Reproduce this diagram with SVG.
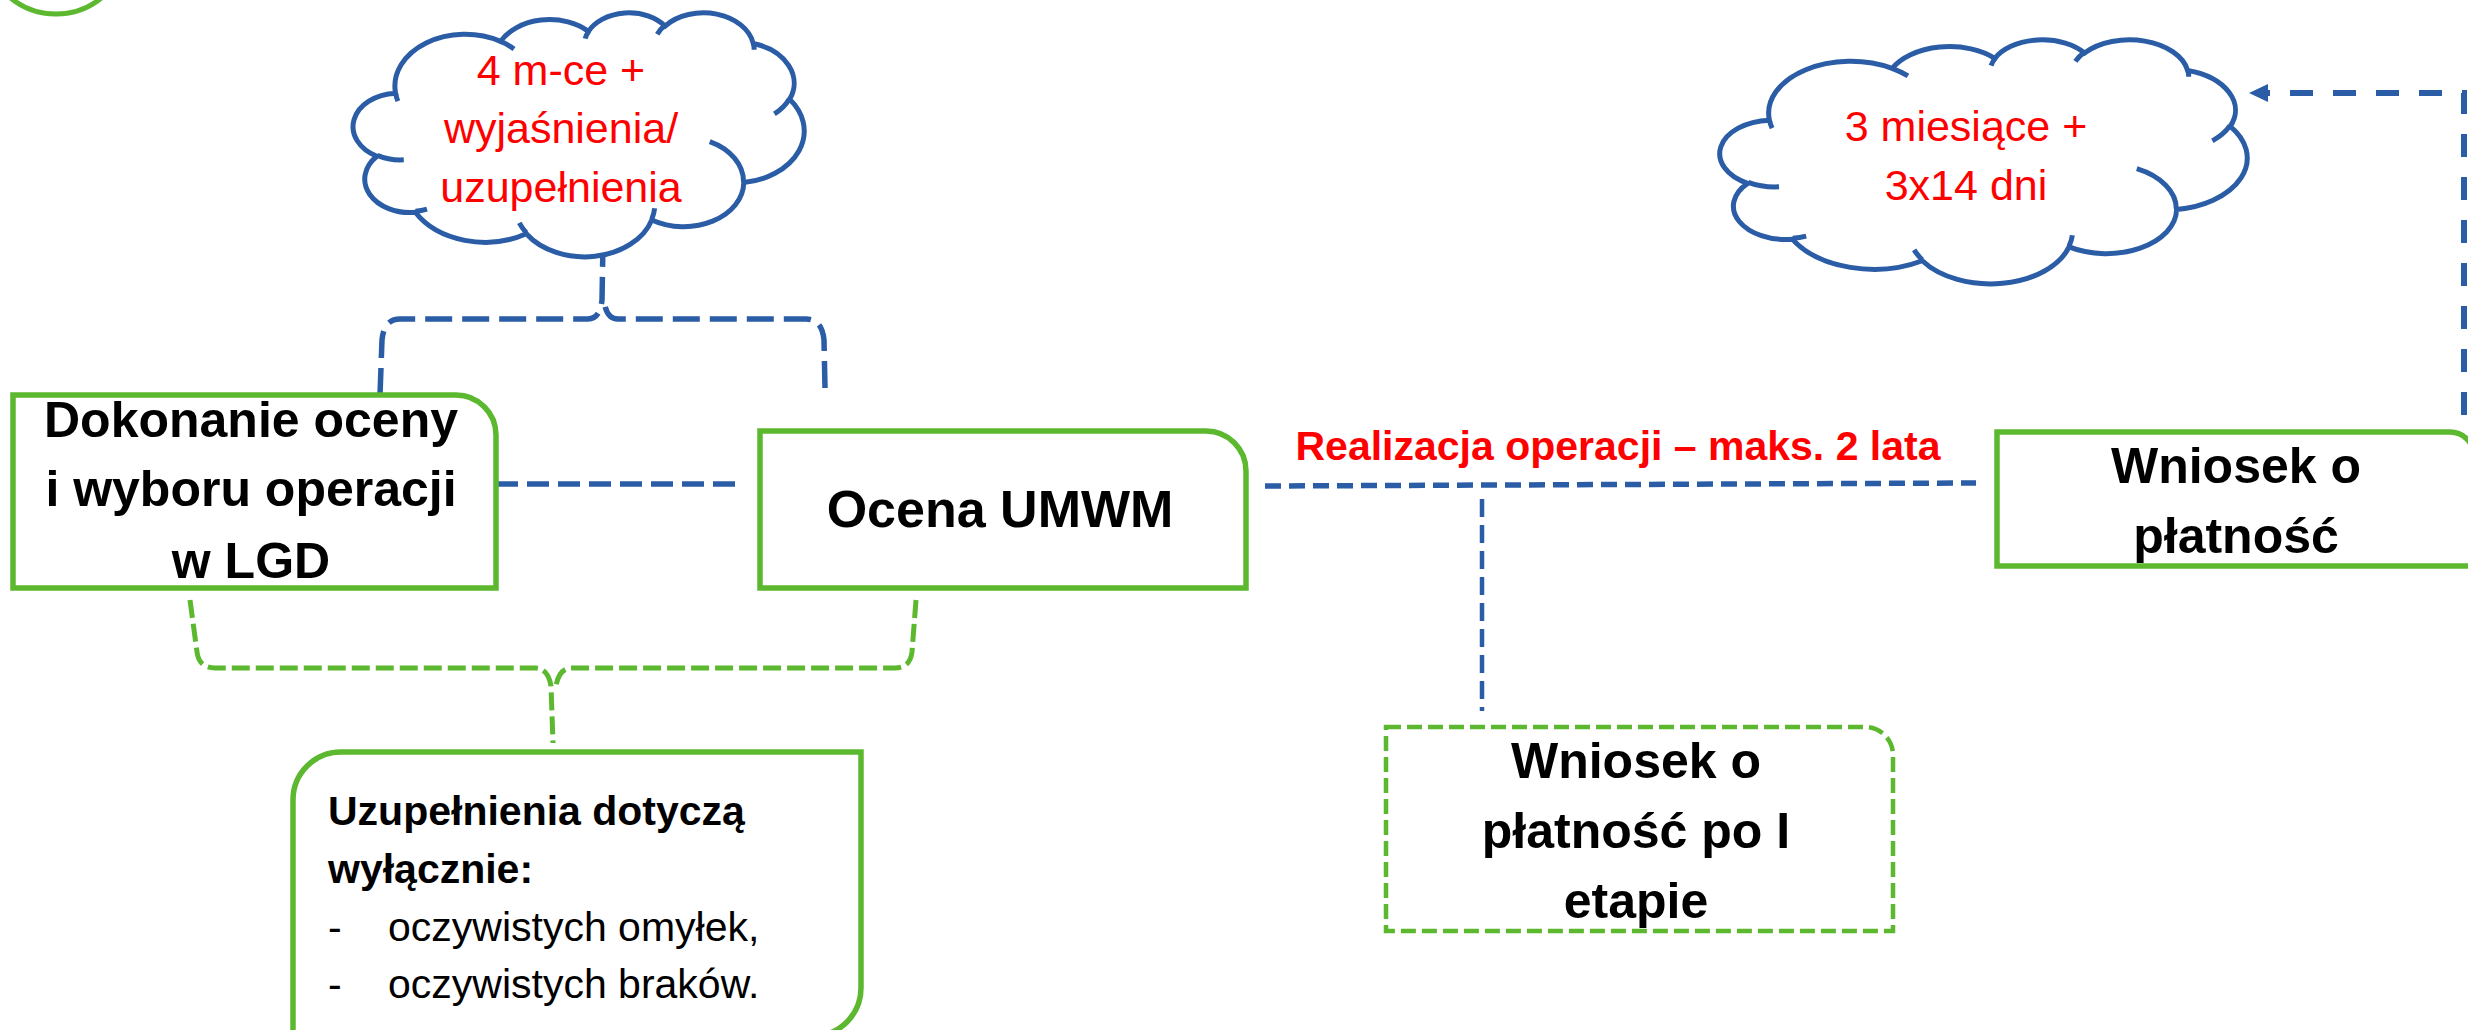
<svg xmlns="http://www.w3.org/2000/svg" width="2468" height="1030" viewBox="0 0 2468 1030">
<defs>
<style>
.box{fill:#fff;stroke:#5CB82E;stroke-width:5.5}
.dbox{fill:#fff;stroke:#5CB82E;stroke-width:4.5;stroke-dasharray:15 6}
.t{font-family:"Liberation Sans",Arial,sans-serif;font-weight:bold;font-size:50px;fill:#000;text-anchor:middle}
.red{font-family:"Liberation Sans",Arial,sans-serif;fill:#FF0000;text-anchor:middle;font-size:43px}
.s{font-family:"Liberation Sans",Arial,sans-serif;fill:#000;font-size:41px}
.cl{fill:#fff;stroke:#2B5CA6;stroke-width:5;vector-effect:non-scaling-stroke}
.ci{fill:none;stroke:#2B5CA6;stroke-width:5;vector-effect:non-scaling-stroke}
.bl{fill:none;stroke:#2B5CA6;stroke-width:5.5}
.gr{fill:none;stroke:#5CB82E;stroke-width:5;stroke-dasharray:18 6}
</style>
<marker id="arr" markerUnits="userSpaceOnUse" markerWidth="20" markerHeight="20" viewBox="0 0 20 20" refX="0" refY="10" orient="auto"><path d="M0,1 L19,10 L0,19 Z" fill="#2B5CA6"/></marker>
</defs>
<rect width="2468" height="1030" fill="#fff"/>
<circle cx="56" cy="-58" r="72" fill="none" stroke="#5CB82E" stroke-width="5"/>

<g id="connectors">
<path class="bl" style="stroke-dasharray:27 10" d="M380 395 L382 340 Q384 319 400 319 L588 319 Q600 319 602 300 L603 243"/>
<path class="bl" style="stroke-dasharray:27 10" d="M825 388 L824 340 Q822 319 806 319 L618 319 Q606 319 604 300"/>
<path class="bl" style="stroke-dasharray:22 9" d="M496 484 H741"/>
<path class="bl" style="stroke-dasharray:16 8" d="M1265 486 L1976 483"/>
<path class="bl" style="stroke-dasharray:18 8;stroke-width:4.5" d="M1482 499 V711"/>
<path class="bl" style="stroke-dasharray:23 20;stroke-width:6" d="M2464 415 V93 H2268" marker-end="url(#arr)"/>
<path class="gr" d="M190 600 L197 652 Q199 668 215 668 L535 668 Q548 668 551 686 L553 743"/>
<path class="gr" d="M916 600 L912 652 Q910 668 895 668 L572 668 Q559 668 556 686"/>
</g>

<g id="cloud-1">
<g transform="translate(355 12) scale(0.010394 0.005648)">
<path class="cl" d="M3900 14370 A6753 9190 0 0 1 14005 5202 A5333 7267 0 0 1 22456 3432 A4365 5945 0 0 1 29833 2481 A4857 6595 0 0 1 38318 5576 A5333 7273 0 0 1 41818 15460 A6775 9220 0 0 1 37404 30203 A5785 7867 0 0 1 28556 36813 A6752 9215 0 0 1 16482 39267 A7720 10543 0 0 1 5806 35472 A4360 5918 0 0 1 2114 25551 A4345 5945 0 0 1 3900 14370 Z"/>
<path class="ci" d="M4693 26177 A4345 5945 0 0 1 2160 25380 M6928 34899 A4360 5918 0 0 1 5820 35281 M16478 39090 A6752 9215 0 0 1 15809 37347 M28827 34751 A6752 9215 0 0 1 28560 36660 M34129 22954 A5785 7867 0 0 1 37380 30090 M41798 15354 A5333 7273 0 0 1 40350 18030 M38324 5426 A4857 6595 0 0 1 38401 6690 M29078 3952 A4857 6595 0 0 1 29820 2340 M22141 4720 A4365 5945 0 0 1 22500 3330 M14000 5192 A6753 9190 0 0 1 15300 6541 M4127 15789 A6753 9190 0 0 1 3900 14370"/>
</g>
<text class="red" x="561" y="85">4 m-ce +</text>
<text class="red" x="561" y="143">wyjaśnienia/</text>
<text class="red" x="561" y="202">uzupełnienia</text>
</g>

<g id="cloud-2">
<g transform="translate(1722 39) scale(0.012153 0.005648)">
<path class="cl" d="M3900 14370 A6753 9190 0 0 1 14005 5202 A5333 7267 0 0 1 22456 3432 A4365 5945 0 0 1 29833 2481 A4857 6595 0 0 1 38318 5576 A5333 7273 0 0 1 41818 15460 A6775 9220 0 0 1 37404 30203 A5785 7867 0 0 1 28556 36813 A6752 9215 0 0 1 16482 39267 A7720 10543 0 0 1 5806 35472 A4360 5918 0 0 1 2114 25551 A4345 5945 0 0 1 3900 14370 Z"/>
<path class="ci" d="M4693 26177 A4345 5945 0 0 1 2160 25380 M6928 34899 A4360 5918 0 0 1 5820 35281 M16478 39090 A6752 9215 0 0 1 15809 37347 M28827 34751 A6752 9215 0 0 1 28560 36660 M34129 22954 A5785 7867 0 0 1 37380 30090 M41798 15354 A5333 7273 0 0 1 40350 18030 M38324 5426 A4857 6595 0 0 1 38401 6690 M29078 3952 A4857 6595 0 0 1 29820 2340 M22141 4720 A4365 5945 0 0 1 22500 3330 M14000 5192 A6753 9190 0 0 1 15300 6541 M4127 15789 A6753 9190 0 0 1 3900 14370"/>
</g>
<text class="red" x="1966" y="141">3 miesiące +</text>
<text class="red" x="1966" y="200">3x14 dni</text>
</g>

<g id="node-lgd">
<path class="box" d="M13 395 H456 A40 40 0 0 1 496 435 V588 H13 Z"/>
<text class="t" x="251" y="437">Dokonanie oceny</text>
<text class="t" x="251" y="506">i wyboru operacji</text>
<text class="t" x="251" y="578">w LGD</text>
</g>

<g id="node-umwm">
<path class="box" d="M760 431 H1206 A40 40 0 0 1 1246 471 V588 H760 Z"/>
<text class="t" x="1000" y="527" style="font-size:52px">Ocena UMWM</text>
</g>

<g id="node-wniosek">
<path class="box" d="M1997 432 H2450 A24 24 0 0 1 2474 456 V566 H1997 Z"/>
<text class="t" x="2236" y="483">Wniosek o</text>
<text class="t" x="2236" y="553">płatność</text>
</g>

<g id="node-wniosek-etap">
<path class="dbox" d="M1386 727 H1865 A28 28 0 0 1 1893 755 V931 H1386 Z"/>
<text class="t" x="1636" y="778">Wniosek o</text>
<text class="t" x="1636" y="848">płatność po I</text>
<text class="t" x="1636" y="918">etapie</text>
</g>

<g id="node-uzupelnienia">
<path class="box" d="M341 752 H861 V988 A48 48 0 0 1 813 1036 H293 V800 A48 48 0 0 1 341 752 Z"/>
<text class="s" x="328" y="825" style="font-weight:bold">Uzupełnienia dotyczą</text>
<text class="s" x="328" y="883" style="font-weight:bold">wyłącznie:</text>
<text class="s" x="328" y="941">-</text>
<text class="s" x="388" y="941">oczywistych omyłek,</text>
<text class="s" x="328" y="998">-</text>
<text class="s" x="388" y="998">oczywistych braków.</text>
</g>

<g id="label-realizacja">
<text class="red" x="1618" y="460" style="font-weight:bold;font-size:41px">Realizacja operacji – maks. 2 lata</text>
</g>
</svg>
